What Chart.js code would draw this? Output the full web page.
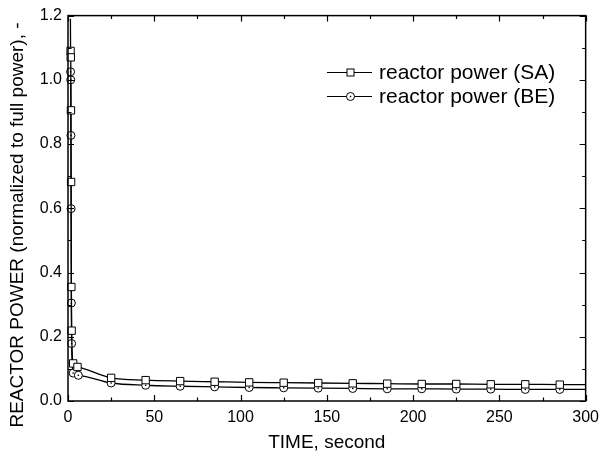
<!DOCTYPE html>
<html>
<head>
<meta charset="utf-8">
<script src="https://cdn.jsdelivr.net/npm/chart.js@4.4.1/dist/chart.umd.min.js"></script>
<style>
  body { margin: 0; background: #fff; }
  #wrap { width: 606px; height: 454px; }
</style>
</head>
<body>
<div id="wrap"><canvas id="powerChart"></canvas></div>
<script>
// values
const saTime  = [1.4, 1.5, 1.6, 1.7, 1.8, 1.95, 2.1, 3, 5.5, 25, 45, 65, 85, 105, 125, 145, 165, 185, 205, 225, 245, 265, 285, 300];
const saPower = [1.19, 1.09, 1.07, 0.905, 0.682, 0.355, 0.219, 0.117, 0.106, 0.072, 0.065, 0.062, 0.060, 0.058, 0.057, 0.056, 0.055, 0.054, 0.053, 0.053, 0.052, 0.052, 0.051, 0.051];
const beTime  = [1.5, 1.6, 1.7, 1.8, 1.95, 2.1, 3, 6, 25, 45, 65, 85, 105, 125, 145, 165, 185, 205, 225, 245, 265, 285, 300];
const bePower = [1.025, 1.0, 0.827, 0.599, 0.305, 0.179, 0.087, 0.080, 0.056, 0.049, 0.046, 0.044, 0.042, 0.041, 0.040, 0.039, 0.038, 0.038, 0.037, 0.037, 0.036, 0.036, 0.036];
const seriesNames = ['reactor power (SA)', 'reactor power (BE)'];
const xTicks = [0, 50, 100, 150, 200, 250, 300];
const yTicks = [0, 0.2, 0.4, 0.6, 0.8, 1.0, 1.2];

const FONT = "'Liberation Sans', Arial, sans-serif";

function toPoints(xs, ys) {
    return xs.map((x, i) => ({ x: x, y: ys[i] }));
}

// first SA point (peak) and the end points at 300 carry no symbol
function saRadius(ctx) {
    const n = saTime.length;
    return (ctx.dataIndex === 0 || ctx.dataIndex === n - 1) ? 0 : 5.2;
}
function beRadius(ctx) {
    return ctx.dataIndex === beTime.length - 1 ? 0 : 4;
}

function drawSquare(ctx, x, y) {
    ctx.fillStyle = '#fff';
    ctx.fillRect(x - 3.5, y - 3.5, 7, 7);
    ctx.strokeRect(x - 3.5, y - 3.5, 7, 7);
}
function drawCircle(ctx, x, y) {
    ctx.fillStyle = '#fff';
    ctx.beginPath();
    ctx.arc(x, y, 4, 0, Math.PI * 2);
    ctx.fill();
    ctx.stroke();
    ctx.fillStyle = '#000';
    ctx.fillRect(x - 0.7, y - 0.7, 1.4, 1.4);
}

// box frame with inward major/minor ticks, circle dots, y title and legend
const framePlugin = {
    id: 'frame',
    afterDatasetsDraw(chart) {
        const { ctx, chartArea: a, scales: { x, y } } = chart;
        ctx.save();
        ctx.strokeStyle = '#000';

        // dot in the middle of each circle symbol
        ctx.fillStyle = '#000';
        chart.getDatasetMeta(1).data.forEach((pt, i) => {
            if (i === beTime.length - 1) return;
            ctx.fillRect(pt.x - 0.7, pt.y - 0.7, 1.4, 1.4);
        });

        ctx.lineWidth = 1.5;
        ctx.strokeRect(a.left, a.top, a.right - a.left, a.bottom - a.top);
        ctx.lineWidth = 1.2;
        ctx.beginPath();
        for (let v = 0; v <= 300; v += 25) {
            const px = Math.round(x.getPixelForValue(v)) + 0.5;
            const len = xTicks.includes(v) ? 6 : 3.5;
            ctx.moveTo(px, a.bottom); ctx.lineTo(px, a.bottom - len);
            ctx.moveTo(px, a.top); ctx.lineTo(px, a.top + len);
        }
        for (let k = 0; k <= 12; k++) {
            const py = Math.round(y.getPixelForValue(k / 10)) + 0.5;
            const len = k % 2 === 0 ? 6 : 3.5;
            ctx.moveTo(a.left, py); ctx.lineTo(a.left + len, py);
            ctx.moveTo(a.right, py); ctx.lineTo(a.right - len, py);
        }
        ctx.stroke();

        // y axis title
        ctx.fillStyle = '#000';
        ctx.font = '19px ' + FONT;
        ctx.textAlign = 'center';
        ctx.textBaseline = 'middle';
        ctx.translate(18, 225);
        ctx.rotate(-Math.PI / 2);
        ctx.fillText('REACTOR POWER (normalized to full power), -', 0, 0);
        ctx.setTransform(1, 0, 0, 1, 0, 0);

        // legend
        ctx.font = '21px ' + FONT;
        ctx.textAlign = 'left';
        const rowsY = [72, 96];
        rowsY.forEach((ry, i) => {
            ctx.lineWidth = 1.2;
            ctx.beginPath();
            ctx.moveTo(327, ry + 0.5);
            ctx.lineTo(372, ry + 0.5);
            ctx.stroke();
            ctx.lineWidth = 1;
            if (i === 0) drawSquare(ctx, 350.5, ry + 0.5);
            else drawCircle(ctx, 350.5, ry + 0.5);
            ctx.fillStyle = '#000';
            ctx.fillText(seriesNames[i], 379, ry + 1);
        });
        ctx.restore();
    }
};

new Chart(document.getElementById('powerChart'), {
    type: 'line',
    data: {
        datasets: [{
            label: seriesNames[0],
            data: toPoints(saTime, saPower),
            borderColor: '#000',
            borderWidth: 1.3,
            pointStyle: 'rect',
            pointRadius: saRadius,
            pointBorderWidth: 1,
            pointBorderColor: '#000',
            pointBackgroundColor: '#fff',
            cubicInterpolationMode: 'monotone'
        }, {
            label: seriesNames[1],
            data: toPoints(beTime, bePower),
            borderColor: '#000',
            borderWidth: 1.3,
            pointStyle: 'circle',
            pointRadius: beRadius,
            pointBorderWidth: 1,
            pointBorderColor: '#000',
            pointBackgroundColor: '#fff',
            cubicInterpolationMode: 'monotone'
        }]
    },
    options: {
        responsive: true,
        maintainAspectRatio: false,
        animation: false,
        clip: false,
        layout: { padding: { top: 15, right: 15, left: 0, bottom: 0 } },
        plugins: {
            legend: { display: false },
            tooltip: { enabled: false }
        },
        scales: {
            x: {
                type: 'linear',
                min: 0,
                max: 300,
                afterFit(s) { s.height = 53; },
                afterBuildTicks(s) { s.ticks = xTicks.map(v => ({ value: v })); },
                grid: { display: false, drawTicks: false },
                border: { display: false },
                ticks: { color: '#000', padding: 7, maxRotation: 0, font: { family: FONT, size: 16 } },
                title: { display: true, text: 'TIME, second', color: '#000', padding: { top: 0, bottom: 0 }, font: { family: FONT, size: 19 } }
            },
            y: {
                type: 'linear',
                min: 0,
                max: 1.2,
                afterFit(s) { s.width = 68; },
                afterBuildTicks(s) { s.ticks = yTicks.map(v => ({ value: v })); },
                grid: { display: false, drawTicks: false },
                border: { display: false },
                ticks: { color: '#000', padding: 6, font: { family: FONT, size: 16 }, callback: v => v.toFixed(1) },
                title: { display: false }
            }
        }
    },
    plugins: [framePlugin]
});
</script>
</body>
</html>
